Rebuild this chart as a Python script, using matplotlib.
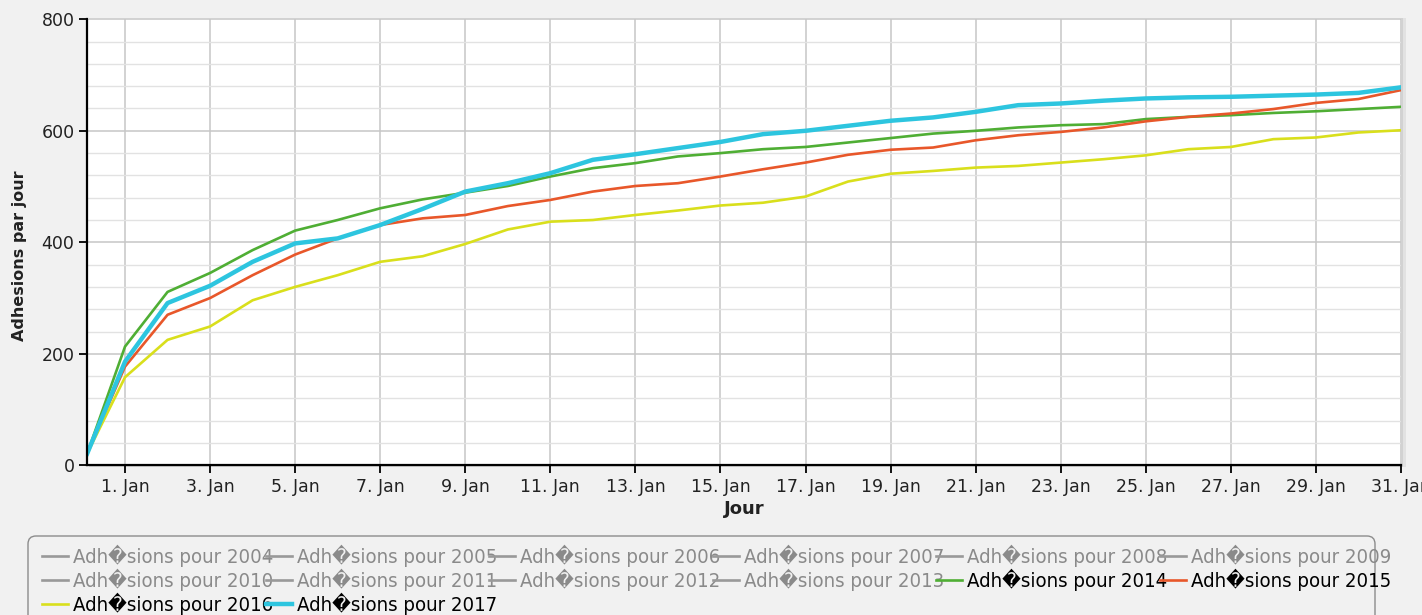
import matplotlib
matplotlib.use("Agg")
import numpy as np
from matplotlib import pyplot as plt
from matplotlib.lines import Line2D
from matplotlib.patches import FancyBboxPatch, Rectangle
from matplotlib.transforms import IdentityTransform

# day of January for each point (first point sits just after midnight, before 1 Jan tick)
days = [0.11] + list(range(1, 32))

adh_2014 = [21, 213, 311, 345, 386, 421, 440, 461, 477, 489, 501, 518, 533, 542, 554, 560,
            567, 571, 579, 587, 595, 600, 606, 610, 612, 621, 625, 628, 632, 635, 639, 643]
adh_2015 = [21, 177, 270, 300, 341, 378, 407, 431, 443, 449, 465, 476, 491, 501, 506, 518,
            531, 543, 557, 566, 570, 583, 592, 598, 606, 617, 625, 631, 639, 650, 657, 673]
adh_2016 = [21, 158, 225, 249, 296, 320, 341, 365, 375, 397, 423, 437, 440, 449, 457, 466,
            471, 482, 509, 523, 528, 534, 537, 543, 549, 556, 567, 571, 585, 588, 597, 601]
adh_2017 = [21, 186, 291, 322, 365, 398, 407, 431, 460, 491, 506, 524, 548, 558, 569, 580,
            594, 600, 609, 618, 624, 634, 646, 649, 654, 658, 660, 661, 663, 665, 668, 678]

years_hidden = list(range(2004, 2014))
tick_days = list(range(1, 32, 2))
tick_labels = [f"{d}. Jan" for d in tick_days]

W, H = 1422, 615
fig = plt.figure(figsize=(W / 100, H / 100), dpi=100, facecolor="#f1f1f1")

# plot area shadow
for off, col in [(7, "#e2e2e2"), (4, "#d2d2d2")]:
    fig.add_artist(Rectangle((87 + off - 2, H - 466 - 1), 1401 - 87, 466 - 19 + 2,
                             transform=IdentityTransform(), facecolor=col,
                             edgecolor="none", zorder=0))

ax = fig.add_axes([87 / W, 1 - 465.3 / H, (1401 - 87) / W, (465.3 - 19.3) / H])
ax.set_facecolor("white")

l14, = ax.plot(days, adh_2014, color="#4fae34", lw=1.9, solid_joinstyle="round")
l15, = ax.plot(days, adh_2015, color="#e8572a", lw=1.9, solid_joinstyle="round")
l16, = ax.plot(days, adh_2016, color="#d9df1c", lw=1.9, solid_joinstyle="round")
l17, = ax.plot(days, adh_2017, color="#2dc5df", lw=3.2, solid_joinstyle="round")

ax.set_xlim(0.106, 31.0)
ax.set_ylim(0, 800)
ax.set_xticks(tick_days)
ax.set_xticklabels(tick_labels)
ax.set_yticks(range(0, 801, 200))
ax.set_yticks(range(0, 801, 40), minor=True)
ax.grid(which="major", color="#c6c6c6", lw=1.1)
ax.grid(which="minor", axis="y", color="#e2e2e2", lw=1.0)
ax.tick_params(axis="both", which="major", length=6, width=1.3, color="black",
               labelsize=12.5, labelcolor="#222222", pad=3)
ax.tick_params(axis="y", which="minor", length=0)
for s in ["top", "right"]:
    ax.spines[s].set_visible(False)
for s in ["left", "bottom"]:
    ax.spines[s].set_linewidth(1.6)
    ax.spines[s].set_color("black")

ax.set_xlabel("Jour", fontsize=13, fontweight="bold", color="#222222", labelpad=3)
ax.set_ylabel("Adhesions par jour", fontsize=11.5, fontweight="bold", color="#222222")
ax.yaxis.set_label_coords(-0.046, 0.469)

# legend, filled row by row like the original (6 items per row)
labels_all = [f"Adh\ufffdsions pour {y}" for y in years_hidden + [2014, 2015, 2016, 2017]]
handles_all = [Line2D([], [], color="#999999", lw=1.9) for _ in years_hidden] + [l14, l15, l16, l17]
ncol = 6
order = []
for c in range(ncol):
    order += list(range(c, len(labels_all), ncol))
handles = [handles_all[i] for i in order]
labels = [labels_all[i] for i in order]
hidden = [i < len(years_hidden) for i in order]

leg_fs = 14.6
fs_px = leg_fs * 100 / 72
hl, htp = 26 / fs_px, 5 / fs_px
pitch = 223.6
row_pitch = 24


def make_legend(cs, ls):
    return fig.legend(handles, labels, ncol=ncol, loc="upper left",
                      bbox_to_anchor=(42 / W, 1 - 544.5 / H), frameon=False,
                      prop={"family": "DejaVu Sans", "stretch": "condensed", "size": leg_fs},
                      handlelength=hl, handletextpad=htp, columnspacing=cs,
                      borderpad=0, borderaxespad=0, labelspacing=ls)


leg = make_legend(0, 0)
fig.canvas.draw()
ext = leg.get_texts()[0].get_window_extent(fig.canvas.get_renderer())
leg.remove()
leg = make_legend((pitch - 31 - ext.width) / fs_px, (row_pitch - ext.height) / fs_px)
for t, h in zip(leg.get_texts(), hidden):
    t.set_color("#8a8a8a" if h else "black")

fig.add_artist(FancyBboxPatch((28, -20), 1375 - 28, H - 536 + 20,
                              boxstyle="round,pad=0,rounding_size=8",
                              transform=IdentityTransform(), facecolor="none",
                              edgecolor="#8c8c8c", lw=1.0, zorder=1))

fig.savefig("out.png", dpi=100, facecolor=fig.get_facecolor())
